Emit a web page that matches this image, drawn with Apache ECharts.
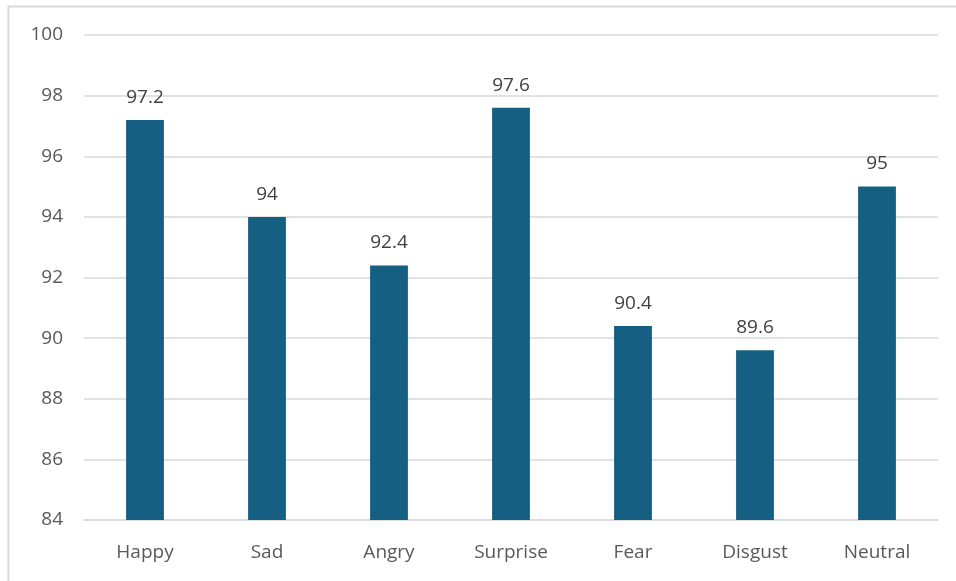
<!DOCTYPE html>
<html>
<head>
<meta charset="utf-8">
<script src="https://cdn.jsdelivr.net/npm/echarts@6/dist/echarts.min.js"></script>
<style>
html,body{margin:0;padding:0;background:#fff;}
#chart{width:956px;height:581px;}
</style>
</head>
<body>
<div id="chart"></div>
<script>
// Recognition accuracy per emotion class
const emotions = ['Happy', 'Sad', 'Angry', 'Surprise', 'Fear', 'Disgust', 'Neutral'];
const accuracy = [97.2, 94, 92.4, 97.6, 90.4, 89.6, 95];
const yMin = 84, yMax = 100, yStep = 2;

const font = '"Open Sans", sans-serif';
const chart = echarts.init(document.getElementById('chart'), null, {renderer: 'canvas'});
chart.setOption({
  animation: false,
  graphic: [{
    type: 'rect',
    shape: {x: 8.5, y: 6.5, width: 1000, height: 1000},
    style: {fill: 'none', stroke: '#d9d9d9', lineWidth: 2},
    silent: true
  }],
  grid: {left: 84, right: 18, top: 35, bottom: 61},
  xAxis: {
    type: 'category',
    data: emotions,
    axisLine: {show: true, lineStyle: {color: '#d9d9d9', width: 1.5}},
    axisTick: {show: false},
    axisLabel: {color: '#595959', fontSize: 19, fontFamily: font, margin: 23}
  },
  yAxis: {
    type: 'value',
    min: yMin, max: yMax, interval: yStep,
    axisLine: {show: false},
    axisTick: {show: false},
    splitLine: {lineStyle: {color: '#d9d9d9', width: 1.5}},
    axisLabel: {color: '#595959', fontSize: 19, fontFamily: font, margin: 21}
  },
  series: [{
    type: 'bar',
    data: accuracy,
    barWidth: '31%',
    itemStyle: {color: '#156082'},
    label: {
      show: true, position: 'top', distance: 13,
      color: '#404040', fontSize: 19, fontFamily: font
    }
  }]
});
</script>
</body>
</html>
